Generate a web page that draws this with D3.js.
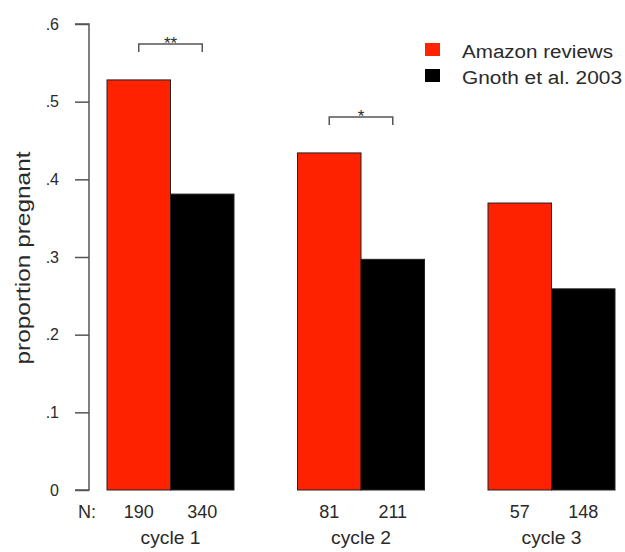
<!DOCTYPE html>
<html><head><meta charset="utf-8">
<script src="https://cdn.jsdelivr.net/npm/d3@7"></script>
<style>body{margin:0;background:#fff}svg{display:block}text{font-family:"Liberation Sans",Arial,sans-serif;fill:#2a2a2a}</style>
</head><body><div id="chart"></div>
<script>
const cycles = ["cycle 1", "cycle 2", "cycle 3"];
const seriesNames = ["Amazon reviews", "Gnoth et al. 2003"];
const amazon = [0.528, 0.434, 0.3695];
const gnoth = [0.381, 0.297, 0.259];
const nAmazon = [190, 81, 57];
const nGnoth = [340, 211, 148];
const yTicks = [0, 0.1, 0.2, 0.3, 0.4, 0.5, 0.6];
const yTickLabels = ["0", ".1", ".2", ".3", ".4", ".5", ".6"];
const sigLabels = ["**", "*", ""];
const colors = ["#ff2200", "#000000"];

const W = 625, H = 552;
const svg = d3.select("#chart").append("svg").attr("width", W).attr("height", H);

const y = d3.scaleLinear().domain([0, 0.6]).range([490, 24]);
// bar units: each group = 2 bars + 1 gap
const x = d3.scaleLinear().domain([0, 8]).range([107, 615]);

const series = [amazon, gnoth];
const ns = [nAmazon, nGnoth];
const bars = [];
cycles.forEach((c, g) => {
  series.forEach((s, j) => {
    bars.push({g, j, v: s[g], n: ns[j][g], u: g * 3 + j});
  });
});

svg.append("g").selectAll("rect").data(bars).join("rect")
  .attr("x", d => x(d.u))
  .attr("width", d => x(d.u + 1) - x(d.u))
  .attr("y", d => y(d.v))
  .attr("height", d => y(0) - y(d.v))
  .attr("fill", d => colors[d.j])
  .attr("stroke", "#222").attr("stroke-width", 1);

// y axis
const axis = d3.axisLeft(y).tickValues(yTicks)
  .tickFormat((d, i) => yTickLabels[i]).tickSize(14).tickPadding(16);
const ag = svg.append("g").attr("transform", "translate(89,0)").call(axis);
ag.select(".domain").attr("stroke", "#555").attr("stroke-width", 1.5).attr("d", `M-14,${y(0.6)}H0V${y(0)}H-14`);
ag.selectAll(".tick line").attr("stroke", "#555").attr("stroke-width", 1.5);
ag.selectAll(".tick text").attr("font-size", 16).attr("fill", "#2a2a2a")
  .attr("font-family", '"Liberation Sans",Arial,sans-serif');

svg.append("text").attr("transform", `translate(30,${258}) rotate(-90)`)
  .attr("text-anchor", "middle").attr("font-size", 20)
  .attr("textLength", 213).attr("lengthAdjust", "spacingAndGlyphs")
  .text("proportion pregnant");

// N labels
svg.append("text").attr("x", 78).attr("y", 518).attr("font-size", 18).text("N:");
svg.append("g").selectAll("text").data(bars).join("text")
  .attr("x", d => x(d.u + 0.5)).attr("y", 518)
  .attr("text-anchor", "middle").attr("font-size", 18).text(d => d.n);
svg.append("g").selectAll("text").data(cycles).join("text")
  .attr("x", (d, g) => x(g * 3 + 1)).attr("y", 544)
  .attr("text-anchor", "middle").attr("font-size", 18)
  .attr("textLength", 60).attr("lengthAdjust", "spacingAndGlyphs").text(d => d);

// significance brackets
cycles.forEach((c, g) => {
  if (!sigLabels[g]) return;
  const top = Math.max(amazon[g], gnoth[g]);
  const by = y(top) - 36;
  const x1 = x(g * 3 + 0.5), x2 = x(g * 3 + 1.5);
  svg.append("path").attr("d", `M${x1},${by + 8}V${by}H${x2}V${by + 8}`)
    .attr("fill", "none").attr("stroke", "#555").attr("stroke-width", 1.5);
  svg.append("text").attr("x", (x1 + x2) / 2).attr("y", by + 5)
    .attr("text-anchor", "middle").attr("font-size", 17).text(sigLabels[g]);
});

// legend
const lg = svg.append("g");
seriesNames.forEach((name, i) => {
  lg.append("rect").attr("x", 425).attr("y", 43 + i * 26).attr("width", 15).attr("height", 13)
    .attr("fill", colors[i]);
  lg.append("text").attr("x", 462).attr("y", 58 + i * 25.5).attr("font-size", 18)
    .attr("textLength", i === 0 ? 151 : 160).attr("lengthAdjust", "spacingAndGlyphs").text(name);
});
</script></body></html>
